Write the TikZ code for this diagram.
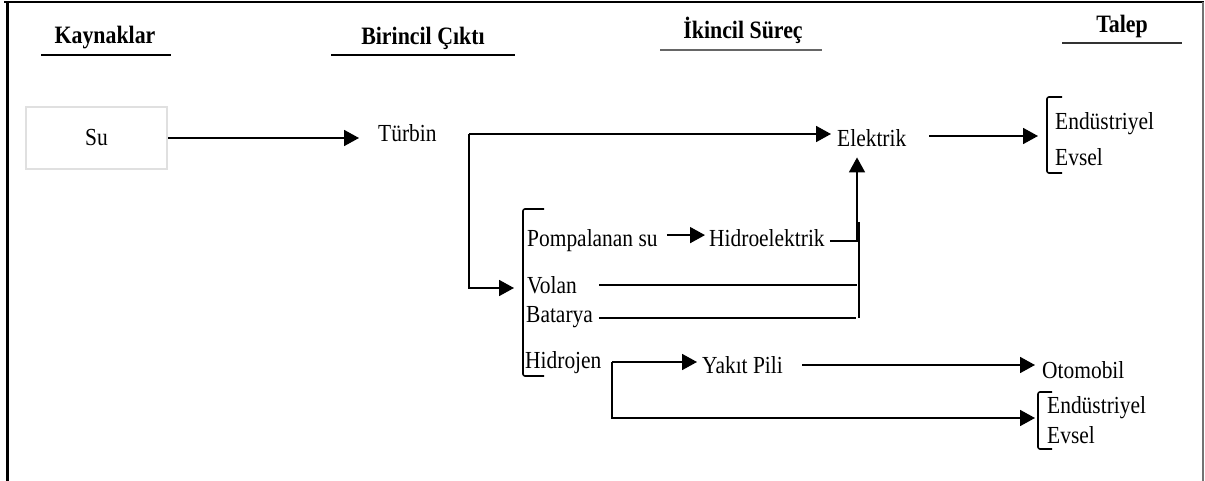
\documentclass[tikz,border=0pt]{standalone}
\usepackage{fontspec}
\setmainfont{Liberation Serif}[FakeStretch=0.875]
\usetikzlibrary{arrows.meta}
\begin{document}
\begin{tikzpicture}[x=1pt,y=-1pt,
  lbl/.style={inner sep=0pt,anchor=base west,font=\fontsize{24.5}{28}\selectfont},
  head/.style={inner sep=0pt,anchor=base,font=\fontsize{25}{28}\selectfont\bfseries},
  hrule/.style={line width=1.3pt},
  conn/.style={line width=1.8pt},
  arr/.style={conn,-{Triangle[length=15pt,width=16pt]}},
  brk/.style={line width=1.6pt,rounded corners=2pt}]

\useasboundingbox (0,0) rectangle (1205,481);

% outer frame (open at the bottom)
\draw[line width=2.5pt] (4,2) -- (1204,2);
\draw[line width=3pt] (7,2) -- (7,481);
\draw[black!55,line width=1.5pt] (1203,2) -- (1203,481);

% column headings
\node[head] (kay) at (105,44) {Kaynaklar};
\node[head] (bir) at (423,45) {Birincil Çıktı};
\node[head] (iki) at (743,39) {İkincil Süreç};
\node[head] (tal) at (1122,33) {Talep};
\draw[hrule] (41,55) -- (171,55);
\draw[hrule] (331,55) -- (515,55);
\draw[hrule,black!60] (660,50) -- (822,50);
\draw[hrule,black!80] (1062,43) -- (1182,43);

% nodes
\node[draw=black!12,line width=2pt,minimum width=141pt,minimum height=62pt,
      inner sep=0pt,font=\fontsize{24.5}{28}\selectfont] (su) at (96.5,138) {Su};
\node[lbl] (turbin) at (378,142) {Türbin};
\node[lbl] (elektrik) at (837,147) {Elektrik};
\node[lbl] (end1) at (1055,130) {Endüstriyel};
\node[lbl] (evs1) at (1055,166) {Evsel};

\node[lbl] (pomp) at (527,247) {Pompalanan su};
\node[lbl] (hidro) at (709,247) {Hidroelektrik};
\node[lbl] (volan) at (527,293) {Volan};
\node[lbl] (batarya) at (526,322) {Batarya};
\node[lbl] (hidrojen) at (525,368) {Hidrojen};
\node[lbl] (yakit) at (702,373) {Yakıt Pili};
\node[lbl] (otomobil) at (1042,378) {Otomobil};
\node[lbl] (end2) at (1047,413) {Endüstriyel};
\node[lbl] (evs2) at (1047,443) {Evsel};

% brackets grouping the items
\draw[brk] (1062,97) -- (1047,97) -- (1047,173) -- (1062,173);
\draw[brk] (544,209) -- (523,209) -- (523,376) -- (544,376);
\draw[brk] (1052,392) -- (1038,392) -- (1038,449) -- (1052,449);
\coordinate (br1) at (1047,136);
\coordinate (br0) at (523,288);
\coordinate (br2) at (1038,418);

% junction points
\coordinate (tj) at (469,134);
\coordinate (cj) at (857,241);
\coordinate (ctop) at (859,222);
\coordinate (cbot) at (859,318);
\coordinate (hj) at (612,362);

% connectors
\draw[arr,shorten >=19pt] (su.east) -- (su.east -| turbin.west);
\draw[arr,shorten >=6pt] (tj) -- (tj -| elektrik.west);
\draw[arr,shorten >=9pt] (tj) |- (br0);
\draw[arr,shorten <=23pt,shorten >=9pt] (elektrik.east |- br1) -- (br1);

\draw[arr,shorten <=9pt,shorten >=4pt] ([yshift=6pt]pomp.east) -- ([yshift=6pt]pomp.east -| hidro.west);
\draw[arr,shorten <=5pt,shorten >=10pt] (hidro.east |- cj) -- (cj) -- (cj |- elektrik.south);
\draw[conn] (ctop) -- (cbot);
\draw[conn,shorten <=22pt] (volan.east) -- (volan.east -| cj);
\draw[conn,shorten <=6pt,shorten >=3pt] (batarya.east |- cbot) -- (cbot);

\draw[arr,shorten >=5pt] (hj) -- (hj -| yakit.west);
\draw[arr,shorten >=3pt] (hj) |- (br2);
\draw[arr,shorten <=19pt,shorten >=7pt] (yakit.east |- 0,365) -- (otomobil.west |- 0,365);
\end{tikzpicture}
\end{document}
